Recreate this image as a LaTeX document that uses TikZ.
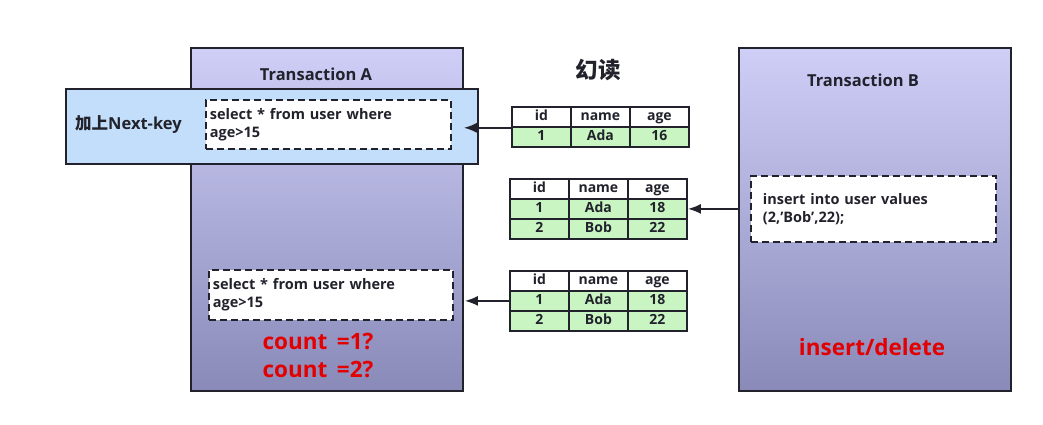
\documentclass[tikz,border=0pt]{standalone}
\usepackage{fontspec}
\setmainfont{Open Sans}
\newfontfamily\cjk{Noto Sans CJK SC}
\usetikzlibrary{positioning,arrows.meta}
\definecolor{lavtop}{RGB}{206,206,247}
\definecolor{lavbot}{RGB}{138,138,185}
\definecolor{lockblue}{RGB}{194,222,250}
\definecolor{rowgreen}{RGB}{200,245,194}
\definecolor{warnred}{RGB}{226,0,0}
\definecolor{ink}{RGB}{34,34,44}

\begin{document}
\begin{tikzpicture}[x=1pt,y=-1pt,inner sep=0pt,text=ink,font=\bfseries\fontsize{14.5}{18}\selectfont]
\tikzstyle{trans}=[rectangle, draw=ink, line width=1.6pt, top color=lavtop, bottom color=lavbot, minimum width=272pt, minimum height=343pt, anchor=north west]
\tikzstyle{band}=[rectangle, draw=ink, line width=1.6pt, fill=lockblue, minimum width=412pt, minimum height=75pt, anchor=north west]
\tikzstyle{query}=[rectangle, draw=ink, line width=1.8pt, dash pattern=on 7pt off 4pt, fill=white, align=left, inner xsep=4pt, anchor=north west]
\tikzstyle{cell}=[rectangle, draw=ink, line width=1.8pt, minimum width=59pt, minimum height=20pt, text height=10pt, text depth=3pt, anchor=north west, font=\bfseries\fontsize{14}{16}\selectfont]
\tikzstyle{head}=[cell, fill=white]
\tikzstyle{row}=[cell, fill=rowgreen]
\tikzstyle{title}=[font=\bfseries\fontsize{16.5}{18}\selectfont]
\tikzstyle{alert}=[text=warnred, font=\bfseries\fontsize{22.5}{28}\selectfont]
\tikzstyle{connect}=[-{Latex[length=13pt,width=10pt]}, line width=2pt, draw=ink]
\useasboundingbox (0,0) rectangle (1043,424);
% transactions
\node[trans] (ta) at (190,47) {};
\node[trans] (tb) at (738,47) {};
\node[title] (tatitle) at (316,74) {Transaction A};
\node[title] (tbtitle) at (863,80) {Transaction B};
\node[band] (lock) at (65,88) {};
\node[title, anchor=west] (locktext) at (75,125) {{\cjk\bfseries 加上}Next-key};
\node[query, text width=237pt, minimum height=49pt] (q1) at (205,99) {select * from user where\\age>15};
\node[query, text width=236pt, minimum height=50pt] (q2) at (208,269) {select * from user where\\age>15};
\node[query, text width=221pt, minimum height=66pt, inner xsep=12pt] (ins) at (750,175) {insert into user values\\(2,'Bob',22);};
\node[alert, align=center] (count) at (318,355) {count\ \,=1?\\count\ \,=2?};
\node[alert] (change) at (872,347) {insert/delete};
\node[font=\cjk\bfseries\fontsize{22.5}{24}\selectfont] (phantom) at (598,70) {幻读};
% tables
\foreach \t/\x/\y in {1/511/106, 2/509/178, 3/509/270}{
  \node[head] (t\t hid) at (\x,\y) {id};
  \node[head] (t\t hname) at (\x+59,\y) {name};
  \node[head] (t\t hage) at (\x+118,\y) {age};
}
\node[row] (t1aid) at (511,126) {1};
\node[row] (t1aname) at (570,126) {Ada};
\node[row] (t1aage) at (629,126) {16};
\foreach \t/\x in {2/509, 3/509}{
  \node[row] (t\t aid) at (\x,198+92*\t-184) {1};
  \node[row] (t\t aname) at (\x+59,198+92*\t-184) {Ada};
  \node[row] (t\t aage) at (\x+118,198+92*\t-184) {18};
  \node[row] (t\t bid) at (\x,218+92*\t-184) {2};
  \node[row] (t\t bname) at (\x+59,218+92*\t-184) {Bob};
  \node[row] (t\t bage) at (\x+118,218+92*\t-184) {22};
}
% reads and writes
\draw[connect, shorten >=12pt] (t1hid.south west) -- (t1hid.south west -| q1.east);
\draw[connect] (tb.west |- t2aage.east) -- (t2aage.east);
\draw[connect, shorten >=11pt] (t3aid.west) -- (t3aid.west -| q2.east);
\end{tikzpicture}
\end{document}
